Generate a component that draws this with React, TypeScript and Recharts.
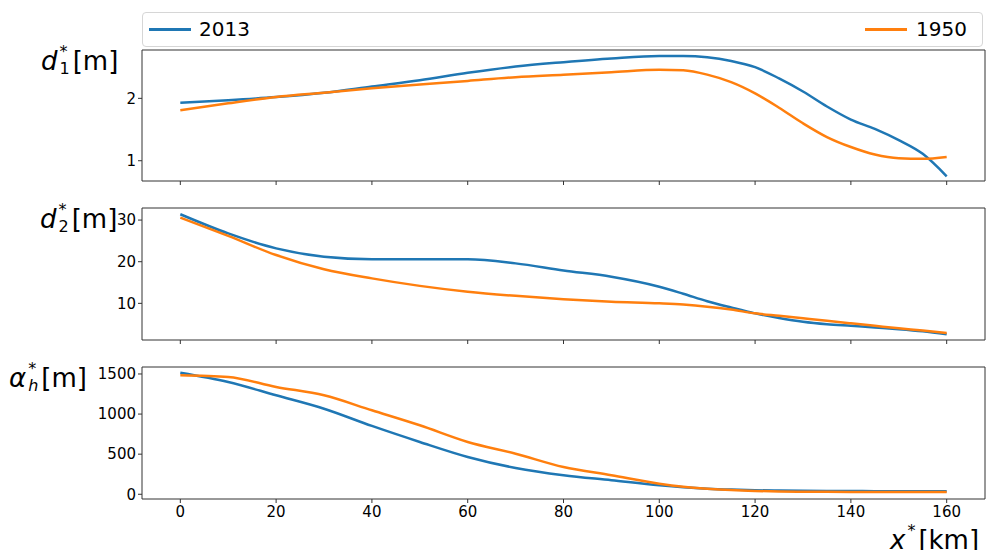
import React from 'react'
import { Line, LineChart, ReferenceLine, XAxis, YAxis } from 'recharts'

const xKm = [0, 10, 20, 30, 40, 50, 60, 70, 80, 90, 100, 105, 110, 115, 120, 125, 130, 135, 140, 145, 150, 155, 160]

const d1_2013 = [1.93, 1.97, 2.02, 2.09, 2.19, 2.29, 2.41, 2.51, 2.58, 2.64, 2.68, 2.68, 2.66, 2.6, 2.5, 2.32, 2.11, 1.87, 1.66, 1.51, 1.33, 1.11, 0.75]
const d1_1950 = [1.81, 1.92, 2.02, 2.09, 2.16, 2.22, 2.28, 2.34, 2.38, 2.42, 2.46, 2.45, 2.38, 2.26, 2.08, 1.85, 1.6, 1.38, 1.22, 1.1, 1.04, 1.03, 1.06]

const d2_2013 = [31.4, 26.8, 23.2, 21.2, 20.6, 20.6, 20.6, 19.6, 17.9, 16.4, 14.0, 12.3, 10.5, 9.0, 7.6, 6.5, 5.6, 5.0, 4.6, 4.2, 3.8, 3.3, 2.6]
const d2_1950 = [30.6, 26.2, 21.6, 18.2, 16.0, 14.2, 12.8, 11.8, 11.0, 10.4, 10.0, 9.7, 9.2, 8.5, 7.6, 7.0, 6.4, 5.8, 5.2, 4.6, 4.0, 3.5, 2.9]

const ah_2013 = [1516, 1400, 1234, 1067, 852, 652, 465, 328, 237, 175, 112, 88, 70, 58, 50, 46, 43, 41, 40, 39, 38, 37, 37]
const ah_1950 = [1484, 1463, 1338, 1234, 1047, 860, 652, 506, 340, 237, 132, 95, 70, 52, 41, 35, 32, 30, 29, 28, 27, 27, 27]

const xTicks = [0, 20, 40, 60, 80, 100, 120, 140, 160]
const d1Ticks = [1, 2]
const d2Ticks = [10, 20, 30]
const ahTicks = [0, 500, 1000, 1500]

const X_DOMAIN: [number, number] = [-8, 168]
const BLUE = '#1f77b4'
const ORANGE = '#ff7f0e'
const FONT = '"DejaVu Sans", sans-serif'

const makeRows = (a: number[], b: number[]) =>
  xKm.map((x, i) => ({ x, y2013: a[i], y1950: b[i] }))

type PanelProps = {
  top: number
  height: number
  marginTop: number
  xAxisHeight: number
  rows: { x: number; y2013: number; y1950: number }[]
  domain: [number, number]
  yTicks: number[]
  showXLabels: boolean
}

const tickStyle = { fill: '#000', fontSize: 15, fontFamily: FONT }

function Panel({ top, height, marginTop, xAxisHeight, rows, domain, yTicks, showXLabels }: PanelProps) {
  return (
    <div style={{ position: 'absolute', left: 0, top }}>
      <LineChart
        width={986}
        height={height}
        data={rows}
        margin={{ top: marginTop, right: 1, bottom: 0, left: 0 }}
      >
        <XAxis
          dataKey='x'
          type='number'
          domain={X_DOMAIN}
          ticks={xTicks}
          height={xAxisHeight}
          stroke='#333'
          tickSize={4}
          tickMargin={3}
          tick={tickStyle}
          tickFormatter={(v) => (showXLabels ? String(v) : '')}
          allowDataOverflow
        />
        <YAxis
          type='number'
          domain={domain}
          ticks={yTicks}
          width={142}
          stroke='#333'
          tickSize={4}
          tickMargin={2}
          tick={tickStyle}
          allowDataOverflow
        />
        <ReferenceLine x={X_DOMAIN[1]} stroke='#333' strokeWidth={1} />
        <ReferenceLine y={domain[1]} stroke='#333' strokeWidth={1} />
        <Line type='monotone' dataKey='y2013' stroke={BLUE} strokeWidth={2.5} dot={false} isAnimationActive={false} />
        <Line type='monotone' dataKey='y1950' stroke={ORANGE} strokeWidth={2.5} dot={false} isAnimationActive={false} />
      </LineChart>
    </div>
  )
}

// axis label like d_1^* [m]: superscript star stacked over the subscript
function MathLabel({ left, top, base, sub, unit }: { left: number; top: number; base: string; sub?: string; unit: string }) {
  return (
    <div
      style={{
        position: 'absolute',
        left,
        top,
        fontFamily: FONT,
        fontSize: 26,
        display: 'flex',
        alignItems: 'center',
        lineHeight: 1,
        color: '#000',
      }}
    >
      <span style={{ fontStyle: 'italic', marginRight: 2 }}>{base}</span>
      <span
        style={{
          display: 'inline-flex',
          flexDirection: 'column',
          fontSize: 16,
          lineHeight: 1.05,
          marginRight: 3,
          fontStyle: sub === 'h' ? 'italic' : 'normal',
        }}
      >
        <span style={{ fontStyle: 'normal' }}>*</span>
        <span>{sub ?? '\u00a0'}</span>
      </span>
      <span>{unit}</span>
    </div>
  )
}

export default function App() {
  return (
    <div style={{ position: 'absolute', left: 0, top: 0, width: 986, height: 550, background: '#fff', overflow: 'hidden' }}>
      <div
        style={{
          position: 'absolute',
          left: 142,
          top: 12,
          width: 839,
          height: 33,
          border: '1px solid #d6d6d6',
          borderRadius: 4,
          fontFamily: FONT,
          fontSize: 20,
          color: '#000',
        }}
      >
        <div style={{ position: 'absolute', left: 6, top: 15, width: 42, height: 3, background: BLUE }} />
        <span style={{ position: 'absolute', left: 56, top: 4 }}>2013</span>
        <div style={{ position: 'absolute', left: 722, top: 15, width: 42, height: 3, background: ORANGE }} />
        <span style={{ position: 'absolute', left: 773, top: 4 }}>1950</span>
      </div>

      <Panel top={0} height={200} marginTop={50} xAxisHeight={19} rows={makeRows(d1_2013, d1_1950)} domain={[0.675, 2.775]} yTicks={d1Ticks} showXLabels={false} />
      <Panel top={190} height={170} marginTop={18} xAxisHeight={20} rows={makeRows(d2_2013, d2_1950)} domain={[1.2, 32.9]} yTicks={d2Ticks} showXLabels={false} />
      <Panel top={350} height={200} marginTop={17} xAxisHeight={51} rows={makeRows(ah_2013, ah_1950)} domain={[-59, 1587]} yTicks={ahTicks} showXLabels />

      <MathLabel left={41} top={44} base='d' sub='1' unit='[m]' />
      <MathLabel left={40} top={202} base='d' sub='2' unit='[m]' />
      <MathLabel left={9} top={361} base='α' sub='h' unit='[m]' />
      <MathLabel left={890} top={523} base='x' unit='[km]' />
    </div>
  )
}
